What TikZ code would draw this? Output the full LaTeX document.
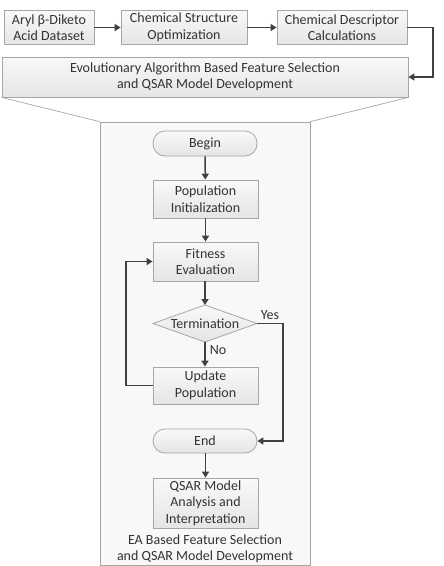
\documentclass[tikz,border=0pt]{standalone}
\usepackage{fontspec}
\setmainfont{Carlito}
\usetikzlibrary{arrows.meta}
\definecolor{boxfill}{HTML}{F0F0F0}
\definecolor{boxline}{HTML}{A6A6A6}
\definecolor{arrcol}{HTML}{404040}
\definecolor{txt}{HTML}{333333}
\definecolor{panel}{HTML}{F8F8F8}
\begin{document}
\begin{tikzpicture}[x=1pt,y=-1pt,
  every node/.style={font=\fontsize{14}{16.5}\selectfont, text=txt, align=center},
  box/.style={draw=boxline, line width=0.8pt, top color=white!60!boxfill, bottom color=boxfill!90!gray, inner sep=0pt},
  rbox/.style={box, rounded corners=12pt},
  arr/.style={draw=arrcol, line width=1.5pt, -{Triangle[width=7pt,length=6pt]}},
  thin/.style={draw=boxline, line width=0.7pt}
]
\useasboundingbox (0,0) rectangle (444,566);
% top row
\node[box, minimum width=90pt, minimum height=34pt] (b1) at (49,27.5) {Aryl β-Diketo\\Acid Dataset};
\node[box, minimum width=126pt, minimum height=34pt] (b2) at (184,27.5) {Chemical Structure\\Optimization};
\node[box, minimum width=130pt, minimum height=34pt] (b3) at (342,27.5) {Chemical Descriptor\\Calculations};
\node[box, minimum width=406pt, minimum height=40pt] (big) at (205,77) {Evolutionary Algorithm Based Feature Selection\\and QSAR Model Development};
% panel
\node[draw=boxline, fill=panel, line width=0.8pt, minimum width=210pt, minimum height=443pt, inner sep=0pt] (inner) at (205,343.5) {};
\draw[thin] (big.south west) -- (inner.north west);
\draw[thin] (big.south east) -- (inner.north east);
% flowchart
\node[rbox, minimum width=104pt, minimum height=25pt] (begin) at (205,143.5) {Begin};
\node[box, minimum width=105pt, minimum height=38pt] (pop) at (205.5,199) {Population\\Initialization};
\node[box, minimum width=105pt, minimum height=39pt] (fit) at (205.5,261.5) {Fitness\\Evaluation};
\coordinate (termW) at (153,323.5);
\coordinate (termN) at (205,305);
\coordinate (termE) at (257,323.5);
\coordinate (termS) at (205,342);
\draw[box] (termW) -- (termN) -- (termE) -- (termS) -- cycle;
\node (term) at (205,323.5) {Termination};
\node[box, minimum width=105pt, minimum height=37pt] (upd) at (205.5,385.5) {Update\\Population};
\node[rbox, minimum width=104pt, minimum height=24pt] (end) at (205,441) {End};
\node[box, minimum width=105pt, minimum height=50pt] (qsar) at (205.5,503) {QSAR Model\\Analysis and\\Interpretation};
\node (cap) at (205,549) {EA Based Feature Selection\\and QSAR Model Development};
% arrows
\draw[arr] (b1) -- (b2);
\draw[arr] (b2) -- (b3);
\coordinate (rt) at (433,27.5);
\draw[arr] (b3.east) -- (rt) |- (big.east);
\draw[arr] (begin) -- (pop);
\draw[arr] (pop) -- (fit);
\draw[arr] (fit.south -| termN) -- (termN);
\draw[arr] (termS) -- (termS |- upd.north);
\coordinate (yesc) at (283,323.5);
\draw[arr] (termE) -- (yesc) |- (end.east);
\coordinate (loopc) at (126,385.5);
\draw[arr] (upd.west) -- (loopc) |- (fit.west);
\draw[arr] (end.south -| qsar.north) -- (qsar.north);
\node (yes) at (270,315) {Yes};
\node (no) at (218,350) {No};
\end{tikzpicture}
\end{document}
